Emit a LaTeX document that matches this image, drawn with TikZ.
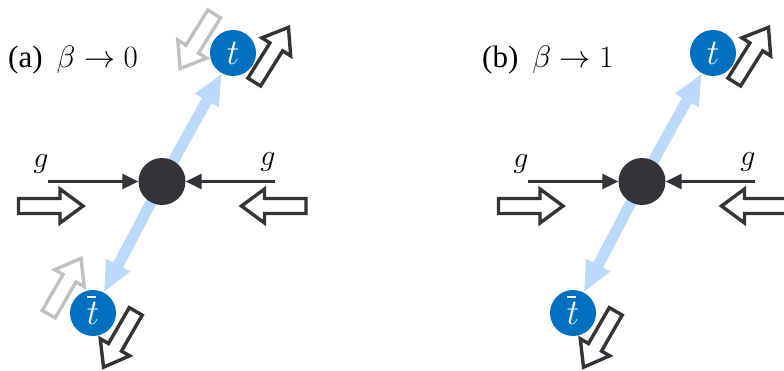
\RequirePackage{fix-cm}
\documentclass[tikz,border=0pt]{standalone}
\usepackage{fontspec}
\setmainfont{Liberation Serif}
\usetikzlibrary{arrows.meta,backgrounds}
\definecolor{dk}{RGB}{51,51,56}
\definecolor{lb}{RGB}{187,217,250}
\definecolor{qb}{RGB}{0,112,192}
\definecolor{gr}{RGB}{192,192,192}
\tikzset{
  vtx/.style={circle,fill=dk,minimum size=47pt,inner sep=0pt},
  quark/.style={circle,fill=qb,minimum size=46pt,inner sep=0pt,text=white,font=\fontsize{36}{36}\selectfont},
  gline/.style={draw=dk,line width=3pt,-{Triangle[length=16pt,width=15pt]}},
  flow/.style={draw=lb,line width=11pt,-{Triangle[length=31pt,width=25pt]}},
  glbl/.style={font=\fontsize{30}{30}\selectfont,inner sep=0pt},
  title/.style={font=\fontsize{31}{31}\selectfont,inner sep=0pt,anchor=base west},
  hollowarr/.pic={\draw[line width=3.4pt,line join=miter,pic actions]
     (-32.5,-7.5) -- (9,-7.5) -- (9,-17) -- (32,0) -- (9,17) -- (9,7.5) -- (-32.5,7.5) -- cycle;}
}
\begin{document}
\begin{tikzpicture}[x=1pt,y=1pt]
\useasboundingbox (0,0) rectangle (784,370);
\clip (0,0) rectangle (784,370);
% ---------- panel (a)
\node[title] (la) at (8,302) {(a)\hspace{14pt}$\beta\rightarrow0$};
\node[vtx] (aC) at (162,188.5) {};
\node[quark] (aT) at (233,317) {\raisebox{-1pt}{$t$}};
\node[quark] (aTB) at (93,57) {\raisebox{-3pt}{$t$}};
\draw[white,line width=2pt] ([shift={(-6,16)}]aTB.center) -- ([shift={(3,16)}]aTB.center);
\begin{pgfonlayer}{background}
\draw[flow] (aC.center) -- (aT);
\draw[flow] (aC.center) -- (aTB);
\end{pgfonlayer}
\coordinate (aGL) at (48,188.5);
\coordinate (aGR) at (275,188.5);
\draw[gline] (aGL) -- (aC);
\draw[gline] (aGR) -- (aC);
\node[glbl] (ag1) at (41,206) {$g$};
\node[glbl] (ag2) at (268,208) {$g$};
\pic[draw=dk] at (51,164) {hollowarr};
\pic[draw=dk,rotate=180] at (273.5,164) {hollowarr};
\pic[draw=dk,rotate=58] at (271.5,315.5) {hollowarr};
\pic[draw=gr,rotate=238] at (197,328.5) {hollowarr};
\pic[draw=gr,rotate=60] at (65,84) {hollowarr};
\pic[draw=dk,rotate=240] at (119.5,30.5) {hollowarr};
% ---------- panel (b)
\node[title] (lb) at (482,302) {(b)\hspace{14pt}$\beta\rightarrow1$};
\begin{scope}[xshift=480pt]
\node[vtx] (bC) at (162,188.5) {};
\node[quark] (bT) at (233,317) {\raisebox{-1pt}{$t$}};
\node[quark] (bTB) at (93,57) {\raisebox{-3pt}{$t$}};
\draw[white,line width=2pt] ([shift={(-6,16)}]bTB.center) -- ([shift={(3,16)}]bTB.center);
\begin{pgfonlayer}{background}
\draw[flow] (bC.center) -- (bT);
\draw[flow] (bC.center) -- (bTB);
\end{pgfonlayer}
\coordinate (bGL) at (48,188.5);
\coordinate (bGR) at (275,188.5);
\draw[gline] (bGL) -- (bC);
\draw[gline] (bGR) -- (bC);
\node[glbl] (bg1) at (41,206) {$g$};
\node[glbl] (bg2) at (268,208) {$g$};
\pic[draw=dk] at (51,164) {hollowarr};
\pic[draw=dk,rotate=180] at (273.5,164) {hollowarr};
\pic[draw=dk,rotate=58] at (271.5,315.5) {hollowarr};
\pic[draw=dk,rotate=240] at (119.5,30.5) {hollowarr};
\end{scope}
\end{tikzpicture}
\end{document}
